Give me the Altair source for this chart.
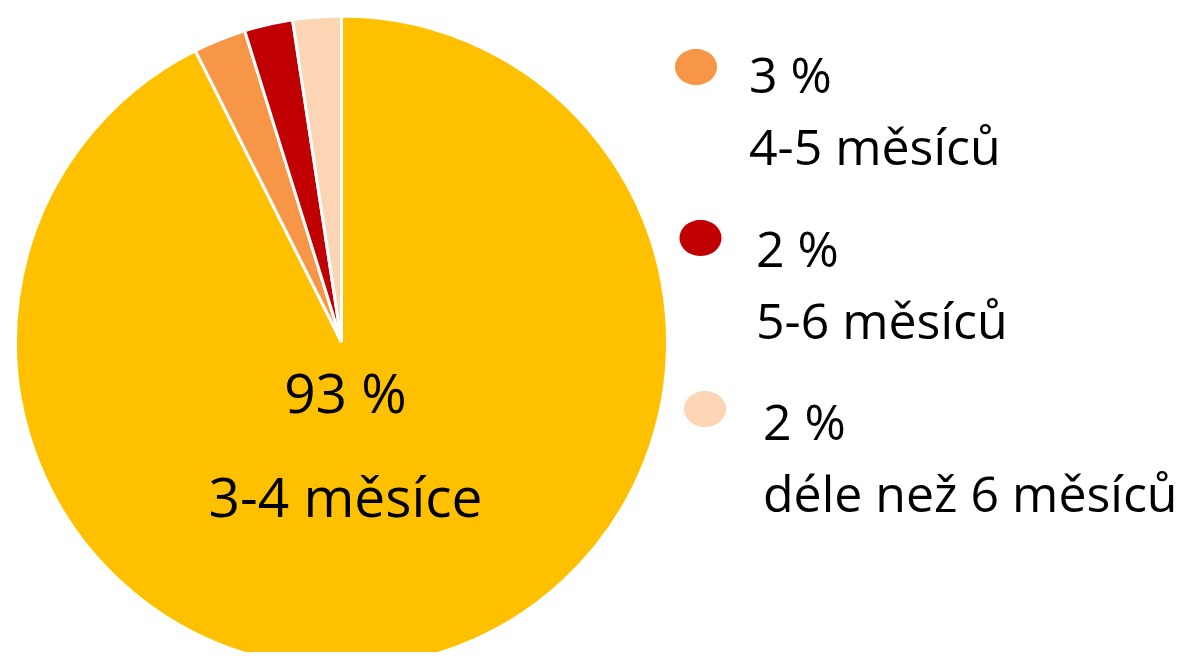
import altair as alt
import pandas as pd

categories = ["3-4 měsíce", "4-5 měsíců", "5-6 měsíců", "déle než 6 měsíců"]
values = [92.6, 2.6, 2.4, 2.4]
pct_labels = ["93 %", "3 %", "2 %", "2 %"]
colors = ["#FFC000", "#F79646", "#C00000", "#FCD5B5"]

df = pd.DataFrame({
    "category": categories,
    "value": values,
    "pct": pct_labels,
    "order": list(range(len(categories))),
})
df["label"] = df["pct"] + "\n" + df["category"]

FONT = "Open Sans"
color_scale = alt.Scale(domain=categories, range=colors)
legend_cats = categories[1:]
ellipse = "M-1,0 A1,0.857 0 1,0 1,0 A1,0.857 0 1,0 -1,0 Z"

base = alt.Chart(df)

pie = base.mark_arc(radius=326, stroke="white", strokeWidth=3).encode(
    theta=alt.Theta("value:Q", stack=True),
    color=alt.Color("category:N", scale=color_scale, legend=None),
    order=alt.Order("order:Q"),
    x=alt.value(333.5),
    y=alt.value(334),
)

inner = base.transform_filter(alt.datum.order == 0).mark_text(
    font=FONT, fontSize=55, align="center", baseline="alphabetic",
    lineBreak="\n", lineHeight=104, color="black",
).encode(
    text="label:N",
    x=alt.value(337.5),
    y=alt.value(405),
)

ly = alt.Y("category:N", scale=alt.Scale(type="point", domain=legend_cats, range=[59, 401], padding=0), axis=None)
lx = alt.X("category:N", scale=alt.Scale(type="point", domain=legend_cats, range=[688, 697], padding=0), axis=None)

markers = base.transform_filter(alt.datum.order > 0).mark_point(
    shape=ellipse, size=1764, filled=True, opacity=1, strokeWidth=0,
).encode(
    x=lx, y=ly,
    color=alt.Color("category:N", scale=color_scale, legend=None),
)

ty = alt.Y("category:N", scale=alt.Scale(type="point", domain=legend_cats, range=[85, 432], padding=0), axis=None)
tx = alt.X("category:N", scale=alt.Scale(type="point", domain=legend_cats, range=[741, 755], padding=0), axis=None)

leg_text = base.transform_filter(alt.datum.order > 0).mark_text(
    font=FONT, fontSize=50, align="left", baseline="alphabetic",
    lineBreak="\n", lineHeight=72, color="black",
).encode(
    x=tx, y=ty, text="label:N",
)

legend_layer = alt.layer(markers, leg_text).resolve_scale(x="independent", y="independent")

chart = alt.layer(pie, inner, legend_layer).properties(
    width=1174, height=644, padding=0,
    autosize=alt.AutoSizeParams(type="none"),
).configure_view(strokeWidth=0)

chart.save("out.html", embed_options={"renderer": "svg", "actions": False})
